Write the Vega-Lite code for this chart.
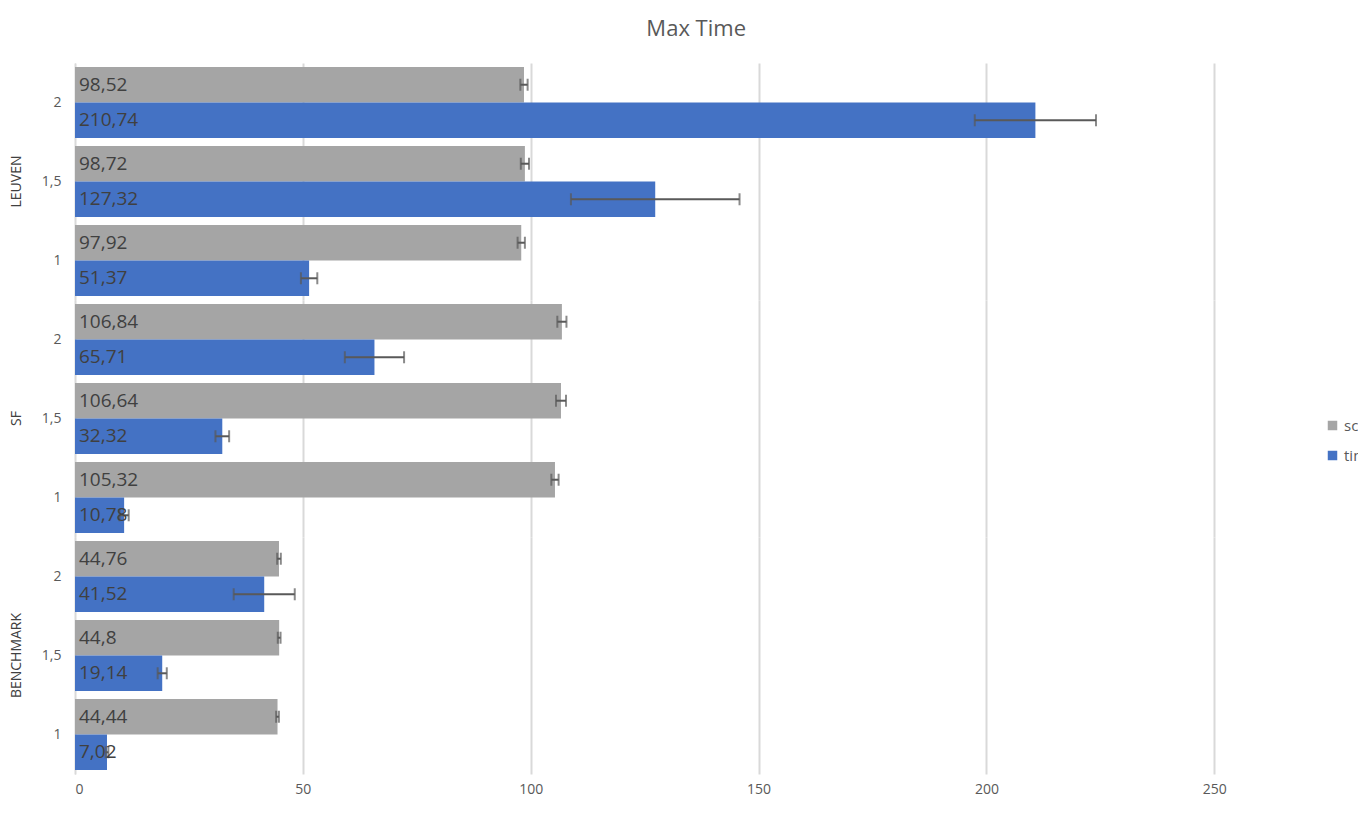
{
  "$schema": "https://vega.github.io/schema/vega-lite/v6.json",
  "title": {"text": "Max Time", "fontSize": 22, "font": "Open Sans", "fontWeight": "normal", "color": "#595959", "offset": 22, "anchor": "middle"},
  "config": {
    "font": "Open Sans",
    "view": {"stroke": null},
    "axis": {"labelColor": "#595959", "labelFontSize": 14, "titleColor": "#595959"}
  },
  "padding": {"left": 10, "top": 18, "right": 10, "bottom": 10},
  "data": {"values": [
    {"group": "LEUVEN", "level": "2", "series": "score", "value": 98.52, "label": "98,52", "err": 0.8},
    {"group": "LEUVEN", "level": "2", "series": "time", "value": 210.74, "label": "210,74", "err": 13.3},
    {"group": "LEUVEN", "level": "1,5", "series": "score", "value": 98.72, "label": "98,72", "err": 0.9},
    {"group": "LEUVEN", "level": "1,5", "series": "time", "value": 127.32, "label": "127,32", "err": 18.5},
    {"group": "LEUVEN", "level": "1", "series": "score", "value": 97.92, "label": "97,92", "err": 0.8},
    {"group": "LEUVEN", "level": "1", "series": "time", "value": 51.37, "label": "51,37", "err": 1.8},
    {"group": "SF", "level": "2", "series": "score", "value": 106.84, "label": "106,84", "err": 1.0},
    {"group": "SF", "level": "2", "series": "time", "value": 65.71, "label": "65,71", "err": 6.5},
    {"group": "SF", "level": "1,5", "series": "score", "value": 106.64, "label": "106,64", "err": 1.1},
    {"group": "SF", "level": "1,5", "series": "time", "value": 32.32, "label": "32,32", "err": 1.5},
    {"group": "SF", "level": "1", "series": "score", "value": 105.32, "label": "105,32", "err": 0.8},
    {"group": "SF", "level": "1", "series": "time", "value": 10.78, "label": "10,78", "err": 1.0},
    {"group": "BENCHMARK", "level": "2", "series": "score", "value": 44.76, "label": "44,76", "err": 0.4},
    {"group": "BENCHMARK", "level": "2", "series": "time", "value": 41.52, "label": "41,52", "err": 6.7},
    {"group": "BENCHMARK", "level": "1,5", "series": "score", "value": 44.8, "label": "44,8", "err": 0.3},
    {"group": "BENCHMARK", "level": "1,5", "series": "time", "value": 19.14, "label": "19,14", "err": 1.0},
    {"group": "BENCHMARK", "level": "1", "series": "score", "value": 44.44, "label": "44,44", "err": 0.3},
    {"group": "BENCHMARK", "level": "1", "series": "time", "value": 7.02, "label": "7,02", "err": 0.3}
  ]},
  "facet": {
    "row": {
      "field": "group", "type": "nominal", "sort": ["LEUVEN", "SF", "BENCHMARK"],
      "header": {"title": null, "labelAngle": -90, "labelOrient": "left", "labelAlign": "center", "labelFontSize": 14, "labelColor": "#404040", "labelPadding": 10}
    }
  },
  "spacing": 0,
  "spec": {
    "width": 1194,
    "height": 237,
    "encoding": {
      "y": {
        "field": "level", "type": "nominal", "sort": ["2", "1,5", "1"],
        "scale": {"paddingInner": 0.1, "paddingOuter": 0.05},
        "axis": {"title": null, "ticks": false, "domainColor": "#D9D9D9", "labelPadding": 14}
      },
      "yOffset": {"field": "series", "type": "nominal", "sort": ["score", "time"], "scale": {"paddingInner": 0}}
    },
    "layer": [
      {
        "mark": {"type": "bar"},
        "encoding": {
          "x": {"field": "value", "type": "quantitative", "scale": {"domain": [0, 262], "nice": false},
                "axis": {"title": null, "values": [0, 50, 100, 150, 200, 250], "gridColor": "#D9D9D9", "gridWidth": 2, "domain": false, "ticks": false, "labelPadding": 8}},
          "color": {"field": "series", "type": "nominal",
                    "scale": {"domain": ["score", "time"], "range": ["#A5A5A5", "#4472C4"]},
                    "legend": {"title": null, "symbolType": "square", "symbolSize": 90, "labelFontSize": 15, "labelColor": "#595959", "orient": "none", "legendX": 1250, "legendY": 355, "rowPadding": 14}}
        }
      },
      {
        "mark": {"type": "errorbar", "ticks": {"size": 12, "thickness": 2}, "thickness": 2, "color": "#595959"},
        "encoding": {
          "x": {"field": "value", "type": "quantitative"},
          "xError": {"field": "err"}
        }
      },
      {
        "mark": {"type": "text", "align": "left", "dx": 4, "fontSize": 19, "color": "#404040"},
        "encoding": {
          "x": {"datum": 0},
          "text": {"field": "label"}
        }
      }
    ]
  }
}
